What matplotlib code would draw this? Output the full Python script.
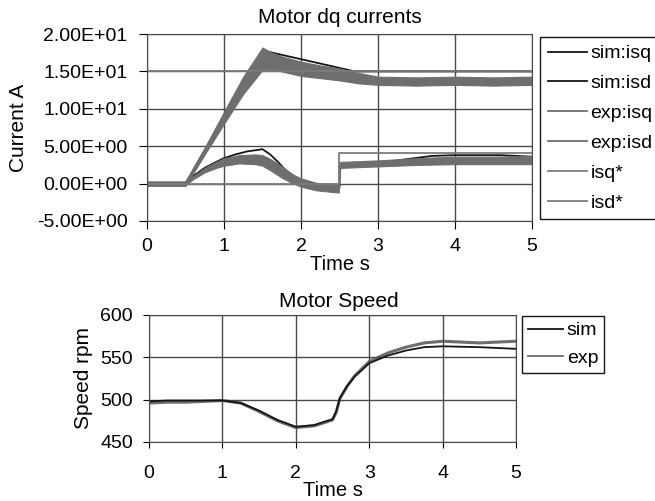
import matplotlib
matplotlib.use('Agg')
import matplotlib.pyplot as plt
from matplotlib.ticker import FormatStrFormatter

plt.rcParams['font.family'] = ['Liberation Sans', 'DejaVu Sans']
plt.rcParams['font.size'] = 14

# ---- motor dq currents ----
t_sim_isq = [0, 0.5, 1.5, 2.7, 5.0]
sim_isq = [0, 0, 17.8, 15.0, 15.0]

t_sim_isd = [0, 0.5, 0.6, 0.75, 0.9, 1.0, 1.15, 1.3, 1.5, 1.6, 1.7, 1.8, 1.9, 2.0,
             2.2, 2.5, 2.5, 2.8, 3.1, 3.4, 3.7, 4.0, 4.6, 5.0]
sim_isd = [0, 0, 1.0, 2.1, 2.9, 3.4, 3.9, 4.3, 4.6, 3.9, 2.9, 1.8, 0.9, 0.2,
           -0.3, -0.5, 2.4, 2.6, 2.9, 3.3, 3.7, 3.8, 3.8, 3.6]

t_exp_isq = [0, 0.5, 0.75, 1.0, 1.25, 1.5, 1.6, 1.75, 2.0, 2.25, 2.5, 2.75, 3.0,
             3.5, 4.0, 4.5, 5.0]
exp_isq_hi = [0.3, 0.3, 4.8, 9.6, 14.3, 18.2, 17.6, 17.0, 16.3, 15.8, 15.4, 14.8,
              14.3, 14.2, 14.3, 14.2, 14.3]
exp_isq_lo = [-0.3, -0.3, 3.9, 8.0, 12.0, 15.2, 15.3, 15.0, 14.4, 14.1, 13.8, 13.4,
              13.2, 13.1, 13.2, 13.1, 13.2]

t_exp_isd = [0, 0.5, 0.6, 0.75, 0.9, 1.0, 1.2, 1.4, 1.5, 1.6, 1.75, 1.9, 2.0, 2.2,
             2.49, 2.51, 2.75, 3.0, 3.5, 4.0, 4.5, 5.0]
exp_isd_hi = [0.2, 0.2, 1.0, 2.1, 2.9, 3.4, 3.8, 3.9, 3.8, 3.3, 2.3, 1.2, 0.7, 0.1,
              -0.1, 2.9, 3.0, 3.1, 3.4, 3.6, 3.6, 3.7]
exp_isd_lo = [-0.2, -0.2, 0.6, 1.5, 2.1, 2.4, 2.7, 2.6, 2.4, 1.8, 0.8, 0.0, -0.4, -0.9,
              -1.2, 2.1, 2.2, 2.3, 2.5, 2.6, 2.6, 2.6]

t_isq_ref = [0, 5]
isq_ref = [15, 15]
t_isd_ref = [0, 2.5, 2.5, 5]
isd_ref = [0, 0, 4.1, 4.1]

# ---- motor speed ----
t_speed = [0, 0.25, 0.5, 0.75, 1.0, 1.25, 1.5, 1.75, 2.0, 2.25, 2.5, 2.55, 2.6, 2.7,
           2.8, 3.0, 3.25, 3.5, 3.75, 4.0, 4.5, 5.0]
speed_sim = [498, 499, 499, 499, 499, 496, 487, 476, 468, 470, 477, 486, 502, 516,
             527, 543, 552, 558, 562, 563, 562, 560]
speed_exp = [496, 497, 497, 498, 499, 496, 486, 475, 467, 469, 476, 485, 501, 516,
             528, 545, 555, 562, 567, 569, 567, 569]

black = '#151515'
gray = '#6e6e6e'
refc = '#7c7c7c'
gridc = '#4a4a4a'

fig = plt.figure(figsize=(6.55, 5.01), dpi=100)

ax1 = fig.add_axes([0.2244, 0.5589, 0.5878, 0.3732])
l1, = ax1.plot(t_sim_isq, sim_isq, color=black, lw=1.3, label='sim:isq', zorder=2)
l2, = ax1.plot(t_sim_isd, sim_isd, color=black, lw=1.3, label='sim:isd', zorder=2)
ax1.fill_between(t_exp_isq, exp_isq_lo, exp_isq_hi, color=gray, lw=0.8,
                 edgecolor=gray, zorder=2.2)
ax1.fill_between(t_exp_isd, exp_isd_lo, exp_isd_hi, color=gray, lw=0.8,
                 edgecolor=gray, zorder=2.2)
l3, = ax1.plot([], [], color=gray, lw=1.3, label='exp:isq')
l4, = ax1.plot([], [], color=gray, lw=1.3, label='exp:isd')
l5, = ax1.plot(t_isq_ref, isq_ref, color=refc, lw=1.3, label='isq*', zorder=2.4)
l6, = ax1.plot(t_isd_ref, isd_ref, color=refc, lw=1.3, label='isd*', zorder=2.4)

ax1.set_xlim(0, 5)
ax1.set_ylim(-5, 20)
ax1.set_yticks([-5, 0, 5, 10, 15, 20])
ax1.yaxis.set_major_formatter(FormatStrFormatter('%.2E'))
ax1.set_title('Motor dq currents', pad=8, fontsize=15)
ax1.set_xlabel('Time s', labelpad=0, fontsize=14.5)
ax1.set_ylabel('Current A', labelpad=6, fontsize=15)
ax1.tick_params(axis='x', length=6, pad=6, labelsize=14)
ax1.tick_params(axis='y', length=6, pad=8, labelsize=14)
ax1.grid(True, color=gridc, lw=1)
for s in ax1.spines.values():
    s.set_color(gridc)
ax1.legend(handles=[l1, l2, l3, l4, l5, l6], loc='upper left',
           bbox_to_anchor=(540 / 655, 1 - 37 / 501), bbox_transform=fig.transFigure,
           fancybox=False, edgecolor=black, framealpha=1, handlelength=2.0,
           handletextpad=0.2, labelspacing=0.63, borderpad=0.4, borderaxespad=0,
           fontsize=14)

ax2 = fig.add_axes([0.2275, 0.1178, 0.5603, 0.2535])
m1, = ax2.plot(t_speed, speed_sim, color=black, lw=1.3, label='sim')
m2, = ax2.plot(t_speed, speed_exp, color=gray, lw=2.2, label='exp')
m2.set_zorder(1.5)
ax2.set_xlim(0, 5)
ax2.set_ylim(450, 600)
ax2.set_yticks([450, 500, 550, 600])
ax2.set_title('Motor Speed', pad=6, x=0.518, fontsize=15)
ax2.set_xlabel('Time s', labelpad=-1, fontsize=14.5)
ax2.set_ylabel('Speed rpm', labelpad=5, fontsize=15)
ax2.tick_params(axis='x', length=4.5, pad=12, labelsize=14)
ax2.tick_params(axis='y', length=4.5, pad=7, labelsize=14)
ax2.grid(True, color=gridc, lw=1)
for s in ax2.spines.values():
    s.set_color(gridc)
leg2 = ax2.legend(handles=[m1, m2], loc='upper left',
                  bbox_to_anchor=(522 / 655, 1 - 316 / 501), bbox_transform=fig.transFigure,
                  fancybox=False, edgecolor=black, framealpha=1, handlelength=1.8,
                  handletextpad=0.2, labelspacing=0.5, borderpad=0.3, borderaxespad=0,
                  fontsize=14)
leg2.get_lines()[1].set_linewidth(1.3)

fig.savefig('out.png', dpi=100)
